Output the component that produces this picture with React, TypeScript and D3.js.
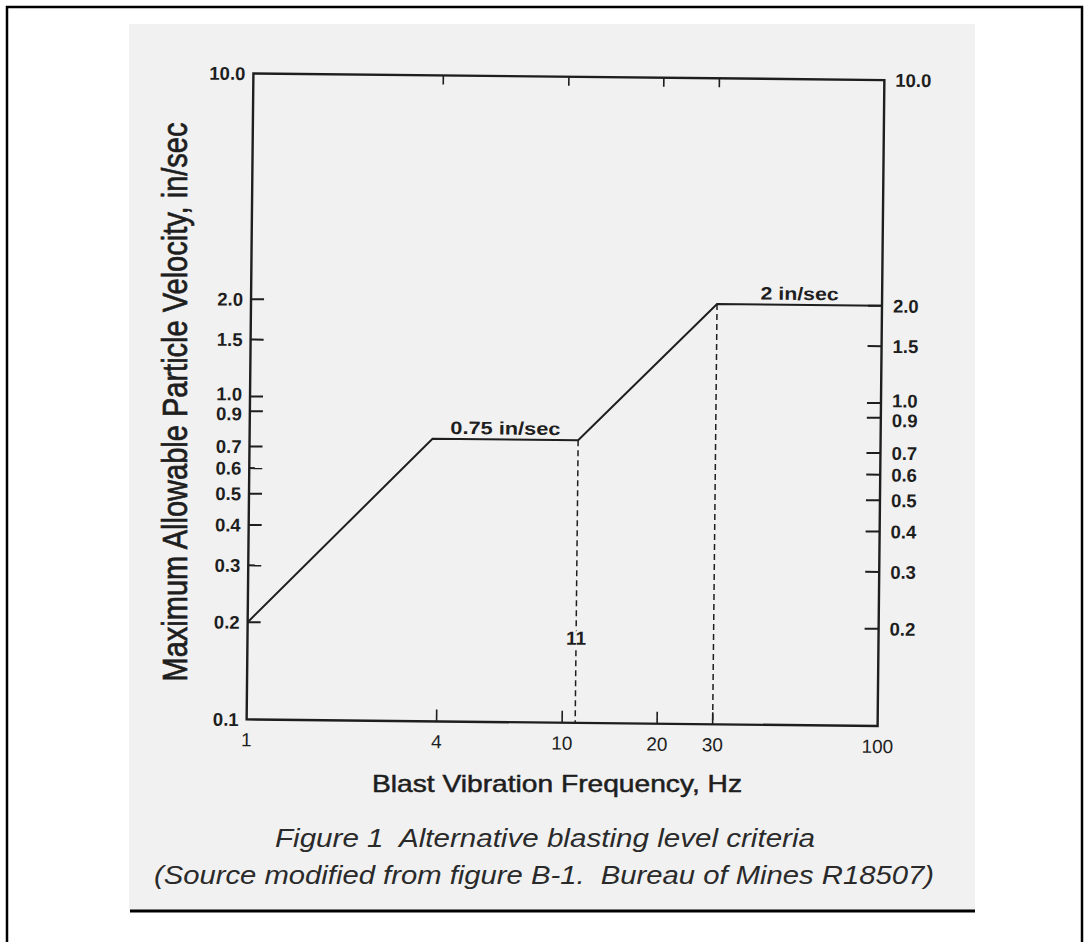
import React from 'react';
import * as d3 from 'd3';

// values (USBM alternative blasting criteria)
const FREQ_HZ = [1, 3.8, 11, 30, 100];
const PPV_IN_SEC = [0.2, 0.75, 0.75, 2.0, 2.0];

const Y_TICKS = [0.2, 0.3, 0.4, 0.5, 0.6, 0.7, 0.9, 1.0, 1.5, 2.0];
const Y_LABELS_LEFT = [0.1, 0.2, 0.3, 0.4, 0.5, 0.6, 0.7, 0.9, 1.0, 1.5, 2.0, 10.0];
const Y_LABELS_RIGHT = [0.2, 0.3, 0.4, 0.5, 0.6, 0.7, 0.9, 1.0, 1.5, 2.0, 10.0];
const X_TICKS = [4, 10, 20, 30];
const X_LABELS = [1, 4, 10, 20, 30, 100];

const DROP_LINES = [
  { freq: 11, ppv: 0.75, label: '11' },
  { freq: 30, ppv: 2.0, label: '' },
];
const PLATEAUS = [
  { from: 3.8, to: 11, ppv: 0.75, label: '0.75 in/sec' },
  { from: 30, to: 100, ppv: 2.0, label: '2 in/sec' },
];

const X_TITLE = 'Blast Vibration Frequency, Hz';
const Y_TITLE = 'Maximum Allowable Particle Velocity, in/sec';
const CAPTION_1 = 'Figure 1  Alternative blasting level criteria';
const CAPTION_2 = '(Source modified from figure B-1.  Bureau of Mines R18507)';

const FONT = "'Liberation Sans', Arial, Helvetica, sans-serif";
const INK = '#1e1e1e';

export default function App() {
  const width = 1089;
  const height = 942;

  const plot = { left: 250, right: 881, top: 76.75, bottom: 722.75 };

  const x = d3.scaleLog().domain([1, 100]).range([plot.left, plot.right]);
  const y = d3.scaleLog().domain([0.1, 10]).range([plot.bottom, plot.top]);

  const line = d3
    .line<number>()
    .x((_, i) => x(FREQ_HZ[i]))
    .y(d => y(d));

  const fmt = d3.format('.1f');
  const plateauTextLen = [110, 78];
  // 1.0 and 0.9 sit very close together, push them apart a touch
  const nudge = (v: number) => (v === 1 ? -2.5 : v === 0.9 ? 2.5 : 0);

  return (
    <svg
      width={width}
      height={height}
      style={{ position: 'absolute', left: 0, top: 0 }}
      fontFamily={FONT}
    >
      <rect x={0} y={0} width={width} height={height} fill="#ffffff" />
      {/* page frame */}
      <rect x={7} y={7} width={1075} height={960} fill="none" stroke="#000" strokeWidth={2.5} />
      {/* scanned figure area */}
      <rect x={129} y={24} width={846} height={887} fill="#f1f1f1" />
      <line x1={130} x2={975} y1={911} y2={911} stroke="#000" strokeWidth={3} />

      {/* the scan is a little tilted */}
      <g transform="rotate(0.6 566 400)">
        {DROP_LINES.map(d => (
          <line
            key={'drop' + d.freq}
            x1={x(d.freq)}
            x2={x(d.freq)}
            y1={y(d.ppv)}
            y2={plot.bottom}
            stroke={INK}
            strokeWidth={1.5}
            strokeDasharray="6,4"
          />
        ))}

        <rect
          x={plot.left}
          y={plot.top}
          width={plot.right - plot.left}
          height={plot.bottom - plot.top}
          fill="none"
          stroke={INK}
          strokeWidth={2.4}
        />

        {Y_TICKS.map(v => (
          <g key={'yt' + v}>
            <line x1={plot.left} x2={plot.left + 13} y1={y(v)} y2={y(v)} stroke={INK} strokeWidth={2} />
            <line x1={plot.right - 14} x2={plot.right} y1={y(v)} y2={y(v)} stroke={INK} strokeWidth={2} />
          </g>
        ))}

        {X_TICKS.map(v => (
          <g key={'xt' + v}>
            <line x1={x(v)} x2={x(v)} y1={plot.bottom} y2={plot.bottom - 12} stroke={INK} strokeWidth={1.6} />
            <line x1={x(v)} x2={x(v)} y1={plot.top} y2={plot.top + 9} stroke={INK} strokeWidth={1.6} />
          </g>
        ))}

        <path d={line(PPV_IN_SEC) || ''} fill="none" stroke={INK} strokeWidth={2} strokeLinejoin="miter" />

        {Y_LABELS_LEFT.map(v => (
          <text
            key={'yl' + v}
            x={plot.left - 8}
            y={y(v) + nudge(v)}
            dy="0.36em"
            textAnchor="end"
            fontSize={18.5}
            fontWeight="bold"
            fill={INK}
          >
            {fmt(v)}
          </text>
        ))}
        {Y_LABELS_RIGHT.map(v => (
          <text
            key={'yr' + v}
            x={plot.right + 11}
            y={y(v) + nudge(v)}
            dy="0.36em"
            textAnchor="start"
            fontSize={18.5}
            fontWeight="bold"
            fill={INK}
          >
            {fmt(v)}
          </text>
        ))}
        {X_LABELS.map(v => (
          <text
            key={'xl' + v}
            x={x(v)}
            y={plot.bottom + 27}
            textAnchor="middle"
            fontSize={19}
            fill={INK}
          >
            {v}
          </text>
        ))}

        {PLATEAUS.map((p, i) => (
          <text
            key={'pl' + i}
            x={x(Math.sqrt(p.from * p.to))}
            y={y(p.ppv) - 5}
            textAnchor="middle"
            fontSize={18}
            fontWeight="bold"
            fill={INK}
            textLength={plateauTextLen[i]}
            lengthAdjust="spacingAndGlyphs"
          >
            {p.label}
          </text>
        ))}

        {DROP_LINES.filter(d => d.label).map(d => (
          <text
            key={'dl' + d.freq}
            x={x(d.freq)}
            y={plot.bottom - 78}
            textAnchor="middle"
            fontSize={19}
            fontWeight="bold"
            fill={INK}
            stroke="#f1f1f1"
            strokeWidth={5}
            paintOrder="stroke"
          >
            {d.label}
          </text>
        ))}
      </g>

      <text
        transform="translate(187,402) scale(1.2,1) rotate(-90)"
        textAnchor="middle"
        fontSize={28.5}
        fill={INK}
        stroke={INK}
        strokeWidth={0.6}
        textLength={559}
        lengthAdjust="spacingAndGlyphs"
      >
        {Y_TITLE}
      </text>
      <text
        x={557}
        y={792}
        textAnchor="middle"
        fontSize={24}
        fill={INK}
        stroke={INK}
        strokeWidth={0.5}
        textLength={370}
        lengthAdjust="spacingAndGlyphs"
      >
        {X_TITLE}
      </text>

      <text
        x={545}
        y={847}
        textAnchor="middle"
        fontSize={25}
        fontStyle="italic"
        fill="#2a2a2a"
        textLength={540}
        lengthAdjust="spacingAndGlyphs"
        style={{ whiteSpace: 'pre' }}
      >
        {CAPTION_1}
      </text>
      <text
        x={544}
        y={884}
        textAnchor="middle"
        fontSize={25}
        fontStyle="italic"
        fill="#2a2a2a"
        textLength={780}
        lengthAdjust="spacingAndGlyphs"
        style={{ whiteSpace: 'pre' }}
      >
        {CAPTION_2}
      </text>
    </svg>
  );
}
